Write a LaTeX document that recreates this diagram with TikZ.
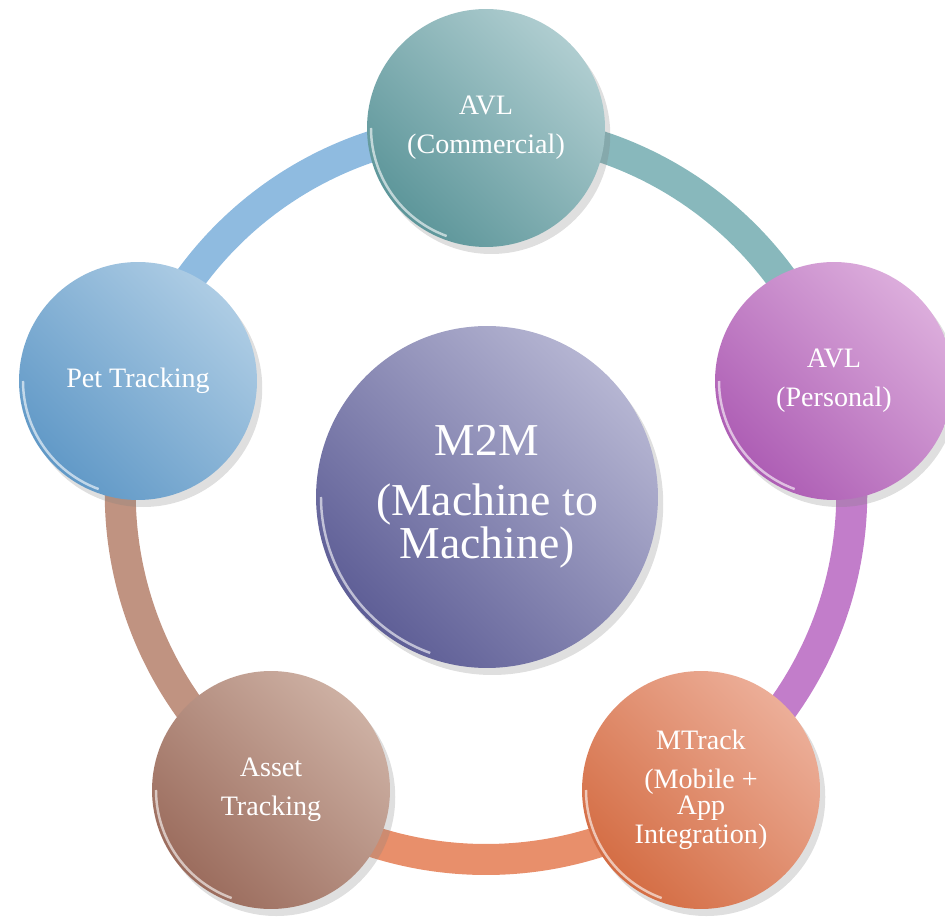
\documentclass[tikz,border=0pt]{standalone}
\usepackage{fontspec}
\setmainfont{Liberation Serif}
\usetikzlibrary{positioning,backgrounds,shadows}

\definecolor{tealdark}{HTML}{5D969A}
\definecolor{teallight}{HTML}{AFCDD0}
\definecolor{tealband}{HTML}{88B8BC}
\definecolor{purpledark}{HTML}{AD5DB4}
\definecolor{purplelight}{HTML}{DCADDC}
\definecolor{purpleband}{HTML}{C27DCA}
\definecolor{orangedark}{HTML}{D46D44}
\definecolor{orangelight}{HTML}{ECAE98}
\definecolor{orangeband}{HTML}{E88F6B}
\definecolor{browndark}{HTML}{9B6C5D}
\definecolor{brownlight}{HTML}{CDB0A3}
\definecolor{brownband}{HTML}{C09381}
\definecolor{bluedark}{HTML}{6199C7}
\definecolor{bluelight}{HTML}{ADCCE4}
\definecolor{blueband}{HTML}{8FBBE0}
\definecolor{hubdark}{HTML}{5E5E96}
\definecolor{hublight}{HTML}{B5B5D2}

\tikzset{
  unit/.style={circle, minimum size=4.76cm, inner sep=0pt, align=center,
    text=white, font=\fontsize{16}{22}\selectfont,
    bottom color=#1dark, top color=#1light, shading angle=-45,
    drop shadow={opacity=.25, shadow xshift=3pt, shadow yshift=-4pt}},
  hub/.style={unit=hub, minimum size=6.84cm, font=\fontsize{26}{24.5}\selectfont},
  band/.style={line width=.62cm, draw=#1band,
    preaction={draw=black, opacity=.12, transform canvas={xshift=2pt, yshift=-3pt}}},
  rim/.style={white, opacity=.6, line width=1.4pt},
}

\begin{document}
\begin{tikzpicture}[x=.02cm, y=.02cm]
  \useasboundingbox (0,0) rectangle (945,916);
  \clip (0,0) rectangle (945,916);

  % centre and the five units round it
  \node[hub] (m2m) at (487,419) {M2M\\[9.5pt](Machine to\\Machine)};
  \node[unit=teal] (avlc) at (486,788) {AVL\\(Commercial)};
  \node[unit=purple] (avlp) at (834,535) {AVL\\(Personal)};
  \node[unit=orange] (mtrack) at (701,126) {MTrack\\(Mobile +\\[-7pt]App\\[-5.5pt]Integration)};
  \node[unit=brown] (asset) at (271,126) {Asset\\Tracking};
  \node[unit=blue] (pet) at (138,535) {Pet Tracking};

  % light rim on the lower left of each ball
  \foreach \n/\r in {avlc/115, avlp/115, mtrack/115, asset/115, pet/115, m2m/166}
    \draw[rim] (\n.center) ++(180:\r) arc[start angle=180, end angle=250, radius=\r];

  % ring
  \begin{scope}[on background layer]
    \draw[band=blue] (pet.center) to[bend left=36, looseness=.94] (avlc.center);
    \draw[band=teal] (avlc.center) to[bend left=36, looseness=.94] (avlp.center);
    \draw[band=purple] (avlp.center) to[bend left=36, looseness=.94] (mtrack.center);
    \draw[band=orange] (mtrack.center) to[bend left=36, looseness=.94] (asset.center);
    \draw[band=brown] (asset.center) to[bend left=36, looseness=.94] (pet.center);
  \end{scope}
\end{tikzpicture}
\end{document}
